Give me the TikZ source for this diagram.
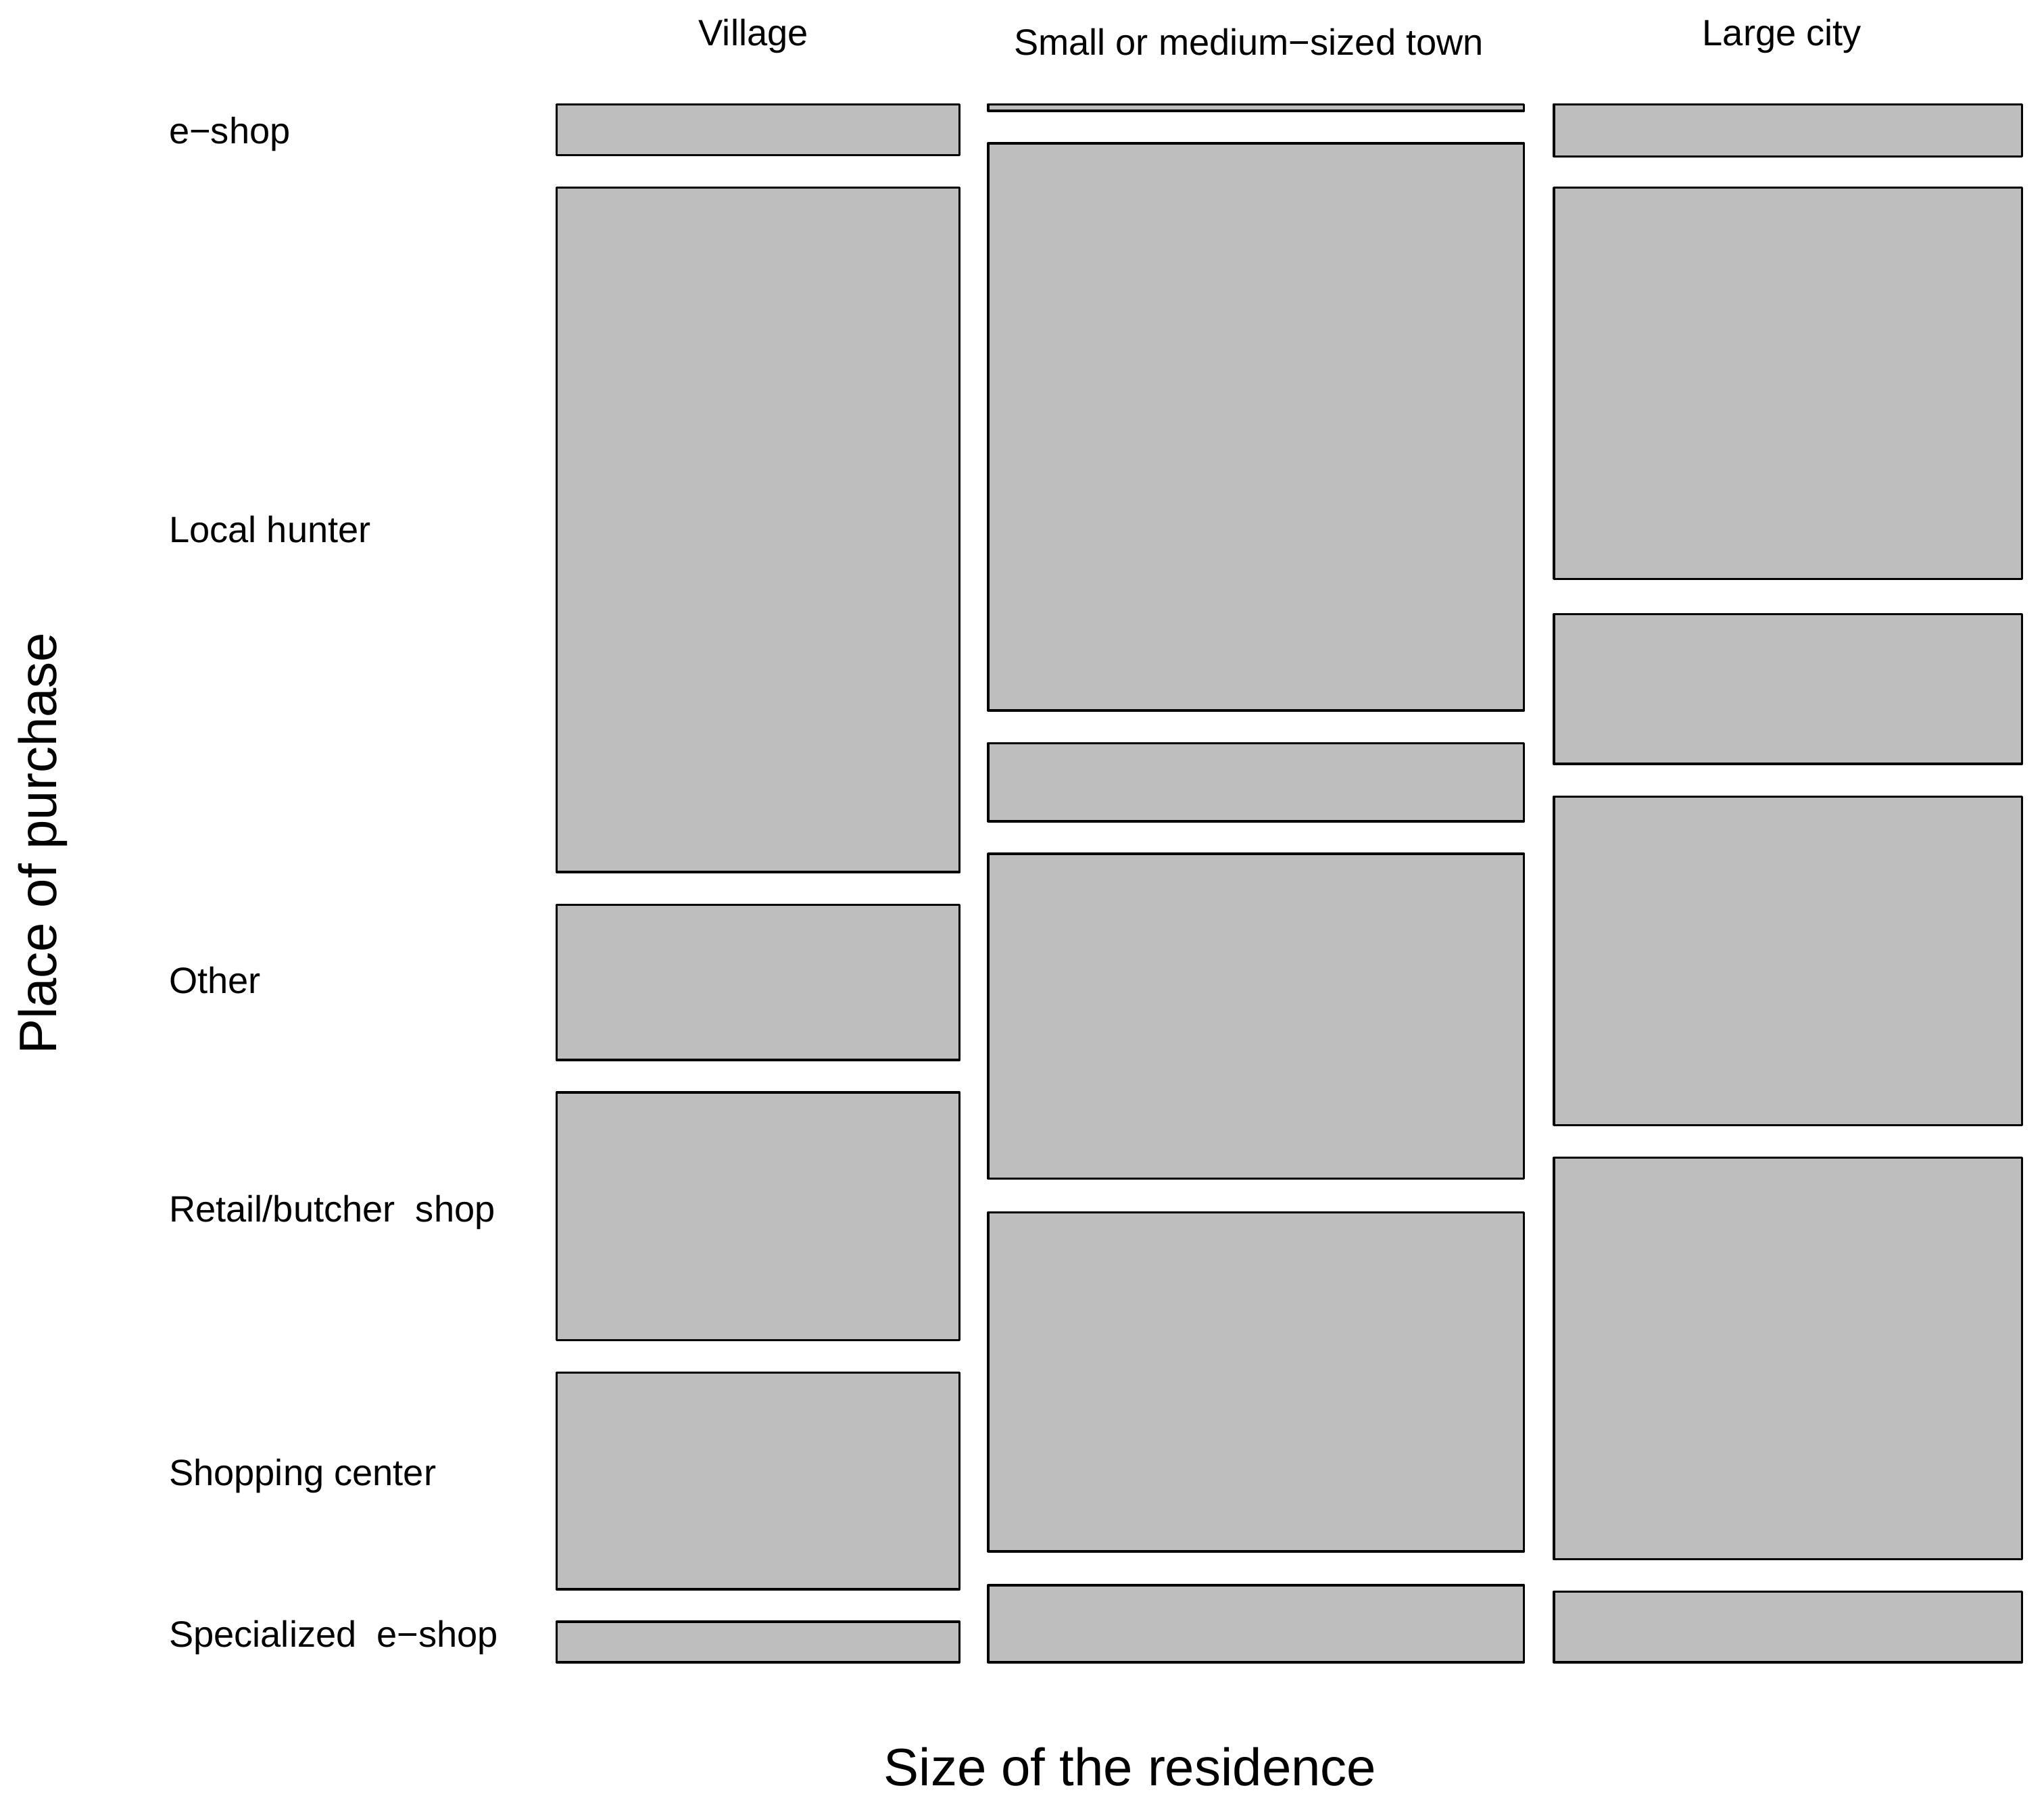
\documentclass[tikz,border=0pt]{standalone}
\usepackage{fontspec}
\setmainfont{Liberation Sans}
\definecolor{cellgray}{rgb}{0.745,0.745,0.745}
\begin{document}
\begin{tikzpicture}[line cap=round,line join=round,x=0.01cm,y=-0.01cm,
  cell/.style={fill=cellgray,draw=black,line width=0.5pt},
  lab/.style={font=\fontsize{8}{9}\selectfont,inner sep=0pt},
  axis/.style={font=\fontsize{11.5}{13}\selectfont,inner sep=0pt}]
\useasboundingbox (0,0) rectangle (1568,1389);
% Village
\draw [cell] (427,80) rectangle (736,119);
\draw [cell] (427,144) rectangle (736,669);
\draw [cell] (427,694) rectangle (736,813);
\draw [cell] (427,838) rectangle (736,1028);
\draw [cell] (427,1053) rectangle (736,1219);
\draw [cell] (427,1244) rectangle (736,1275);
% Small or medium-sized town
\draw [cell] (758,80) rectangle (1169,85);
\draw [cell] (758,110) rectangle (1169,545);
\draw [cell] (758,570) rectangle (1169,630);
\draw [cell] (758,655) rectangle (1169,904);
\draw [cell] (758,930) rectangle (1169,1190);
\draw [cell] (758,1216) rectangle (1169,1275);
% Large city
\draw [cell] (1192,80) rectangle (1551,120);
\draw [cell] (1192,144) rectangle (1551,444);
\draw [cell] (1192,471) rectangle (1551,586);
\draw [cell] (1192,611) rectangle (1551,863);
\draw [cell] (1192,888) rectangle (1551,1196);
\draw [cell] (1192,1221) rectangle (1551,1275);
% labels
\node [lab] (village) at (578,28) {Village};
\node [lab] (town) at (958,32) {Small or medium−sized town};
\node [lab] (city) at (1367,28) {Large city};
\node [lab,anchor=west] (eshop) at (129,103) {e−shop};
\node [lab,anchor=west] (hunter) at (129,406) {Local hunter};
\node [lab,anchor=west] (other) at (129,752) {Other};
\node [lab,anchor=west] (retail) at (129,930) {Retail/butcher\ \ shop};
\node [lab,anchor=west] (shopping) at (129,1132) {Shopping center};
\node [lab,anchor=west] (spec) at (129,1256) {Specialized\ \ e−shop};
\node [axis] (xtitle) at (867,1355) {Size of the residence};
\node [axis,rotate=90] (ytitle) at (33,647) {Place of purchase};
\end{tikzpicture}
\end{document}
